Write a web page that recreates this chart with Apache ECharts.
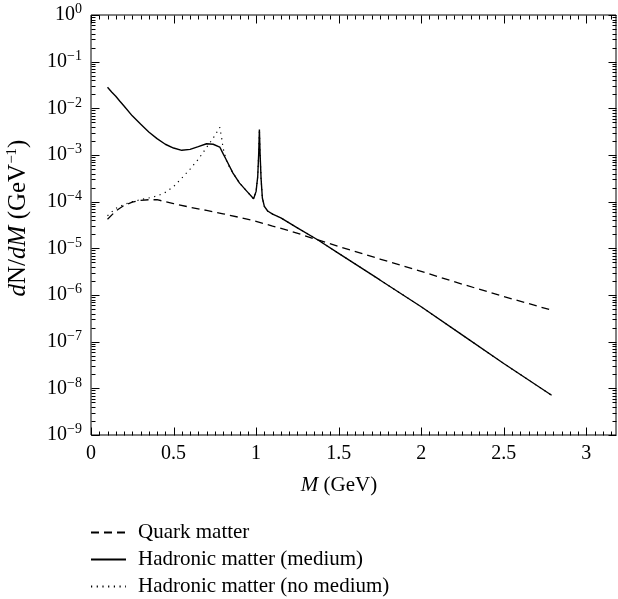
<!DOCTYPE html>
<html>
<head>
<meta charset="utf-8">
<script src="https://cdn.jsdelivr.net/npm/echarts@6/dist/echarts.min.js"></script>
<style>
  html, body { margin: 0; padding: 0; background: #fff; }
  #chart { width: 618px; height: 599px; }
</style>
</head>
<body>
<div id="chart"></div>
<script>
// Dilepton invariant-mass spectra, dN/dM versus M (GeV)
const FONT = '"Liberation Serif", "DejaVu Serif", serif';

// Quark matter
const quarkM = [0.10, 0.15, 0.20, 0.25, 0.30, 0.35, 0.40, 0.50, 0.60, 0.70, 0.80, 0.90, 1.00, 1.10, 1.20, 1.375, 1.50, 1.75, 2.00, 2.25, 2.50, 2.775];
const quarkY = [4.2e-5, 6.3e-5, 8.3e-5, 9.8e-5, 1.07e-4, 1.10e-4, 1.10e-4, 9.1e-5, 7.6e-5, 6.5e-5, 5.5e-5, 4.6e-5, 3.8e-5, 3.0e-5, 2.4e-5, 1.51e-5, 1.10e-5, 5.9e-6, 3.2e-6, 1.70e-6, 9.3e-7, 4.9e-7];

// Hadronic matter with in-medium modification
const hadMedM = [0.10, 0.125, 0.15, 0.175, 0.20, 0.25, 0.30, 0.35, 0.40, 0.45, 0.50, 0.55, 0.60, 0.65, 0.70, 0.74, 0.78, 0.80, 0.82, 0.86, 0.90, 0.95, 0.985, 1.000, 1.010, 1.016, 1.020, 1.024, 1.030, 1.038, 1.050, 1.070, 1.10, 1.15, 1.25, 1.375, 1.50, 1.75, 2.00, 2.25, 2.50, 2.79];
const hadMedY = [2.82e-2, 2.24e-2, 1.82e-2, 1.42e-2, 1.12e-2, 6.9e-3, 4.6e-3, 3.1e-3, 2.24e-3, 1.70e-3, 1.41e-3, 1.26e-3, 1.32e-3, 1.51e-3, 1.74e-3, 1.70e-3, 1.48e-3, 1.07e-3, 7.8e-4, 4.1e-4, 2.5e-4, 1.58e-4, 1.15e-4, 1.66e-4, 3.5e-4, 1.12e-3, 3.5e-3, 1.12e-3, 3.2e-4, 1.2e-4, 7.9e-5, 6.3e-5, 5.4e-5, 4.5e-5, 2.75e-5, 1.51e-5, 7.8e-6, 2.1e-6, 5.6e-7, 1.38e-7, 3.4e-8, 7.1e-9];

// Hadronic matter without medium effects (coincides with the medium curve above 0.86 GeV)
const hadVacM = [0.10, 0.15, 0.20, 0.25, 0.30, 0.35, 0.40, 0.45, 0.50, 0.55, 0.60, 0.65, 0.70, 0.74, 0.765, 0.78, 0.79, 0.80, 0.82, 0.84];
const hadVacY = [5.0e-5, 7.2e-5, 8.7e-5, 1.0e-4, 1.10e-4, 1.20e-4, 1.32e-4, 1.58e-4, 2.1e-4, 3.2e-4, 5.0e-4, 8.1e-4, 1.45e-3, 2.3e-3, 3.2e-3, 3.9e-3, 2.5e-3, 1.41e-3, 7.6e-4, 5.4e-4];

// Axis ticks
const xMajor = [0, 0.5, 1, 1.5, 2, 2.5, 3];
const xMinorStep = 0.05;
const yExponents = [-9, -8, -7, -6, -5, -4, -3, -2, -1, 0];

const X_MIN = 0, X_MAX = 3.18, Y_MIN = 1e-9, Y_MAX = 1;
const MINUS = '\u2212';
const LABEL_SIZE = 20;
const MAJOR_LEN = 8, MINOR_LEN = 4;

const pairs = (xs, ys) => xs.map((x, i) => [x, ys[i]]);
const vacTail = pairs(hadMedM, hadMedY).filter(p => p[0] >= 0.86);

const xMinor = [];
for (let i = 1; i * xMinorStep <= 3.17; i++) {
  const v = +(i * xMinorStep).toFixed(2);
  if (Math.abs(v * 2 - Math.round(v * 2)) > 1e-9) xMinor.push(v);
}
const yMajor = yExponents.map(e => Math.pow(10, e));
const yMinor = [];
yExponents.slice(0, -1).forEach(e => {
  for (let k = 2; k <= 9; k++) yMinor.push(k * Math.pow(10, e));
});

// Inward frame ticks on all four sides: [M, dN/dM, side, length]
// side: 0 bottom, 1 top, 2 left, 3 right
const frameTicks = [];
xMajor.forEach(v => { frameTicks.push([v, Y_MIN, 0, MAJOR_LEN], [v, Y_MAX, 1, MAJOR_LEN]); });
xMinor.forEach(v => { frameTicks.push([v, Y_MIN, 0, MINOR_LEN], [v, Y_MAX, 1, MINOR_LEN]); });
yMajor.forEach(v => { frameTicks.push([X_MIN, v, 2, MAJOR_LEN], [X_MAX, v, 3, MAJOR_LEN]); });
yMinor.forEach(v => { frameTicks.push([X_MIN, v, 2, MINOR_LEN], [X_MAX, v, 3, MINOR_LEN]); });

function renderTick(params, api) {
  const p = api.coord([api.value(0), api.value(1)]);
  const side = api.value(2), len = api.value(3);
  let x1, y1, x2, y2;
  if (side < 2) {
    const x = Math.round(p[0]) + 0.5;
    const y = Math.round(p[1]) + 0.5;
    x1 = x2 = x; y1 = y; y2 = side === 0 ? y - len : y + len;
  } else {
    const x = Math.round(p[0]) + 0.5;
    const y = Math.round(p[1]) + 0.5;
    y1 = y2 = y; x1 = x; x2 = side === 2 ? x + len : x - len;
  }
  return {
    type: 'line', silent: true,
    shape: { x1, y1, x2, y2 },
    style: { stroke: '#000', lineWidth: 1 }
  };
}

const chart = echarts.init(document.getElementById('chart'), null, { renderer: 'canvas' });
chart.setOption({
  backgroundColor: '#fff',
  animation: false,
  textStyle: { fontFamily: FONT },
  grid: { left: 91, right: 2, top: 15, bottom: 164, containLabel: false, show: true, borderColor: '#000', borderWidth: 1, backgroundColor: 'transparent' },
  xAxis: {
    type: 'value', position: 'bottom', min: X_MIN, max: X_MAX, interval: 0.5,
    axisLine: { show: false },
    axisTick: { show: false },
    axisLabel: {
      show: true, customValues: xMajor, margin: 9, color: '#000',
      fontFamily: FONT, fontSize: LABEL_SIZE, formatter: v => String(v)
    },
    splitLine: { show: false }
  },
  yAxis: {
    type: 'log', position: 'left', min: Y_MIN, max: Y_MAX, logBase: 10,
    axisLine: { show: false },
    axisTick: { show: false },
    axisLabel: {
      show: true, customValues: yMajor, margin: 9, color: '#000',
      fontFamily: FONT, fontSize: LABEL_SIZE,
      formatter: v => {
        const e = Math.round(Math.log10(v));
        return '{b|10}{s|' + (e < 0 ? MINUS + (-e) : String(e)) + '}';
      },
      rich: {
        b: { fontFamily: FONT, fontSize: LABEL_SIZE, color: '#000' },
        s: { fontFamily: FONT, fontSize: 14, color: '#000', padding: [0, 0, 11, 0] }
      }
    },
    splitLine: { show: false }
  },
  legend: {
    orient: 'vertical', left: 85, top: 517, height: 120,
    itemWidth: 35, itemHeight: 14, itemGap: 6,
    itemStyle: { color: 'rgba(0,0,0,0)', borderWidth: 0 },
    textStyle: { fontFamily: FONT, fontSize: 21, color: '#000', padding: [0, 0, 0, 7] },
    data: ['Quark matter', 'Hadronic matter (medium)', 'Hadronic matter (no medium)']
  },
  series: [
    {
      name: 'frame ticks', type: 'custom', data: frameTicks,
      renderItem: renderTick, clip: false, silent: true, z: 3,
      encode: { x: 0, y: 1 }
    },
    {
      name: 'Quark matter', type: 'line', data: pairs(quarkM, quarkY),
      symbol: 'none', smooth: false,
      lineStyle: { color: '#000', width: 1.3, type: [8, 5] }, itemStyle: { color: '#000' }
    },
    {
      name: 'Hadronic matter (medium)', type: 'line', data: pairs(hadMedM, hadMedY),
      symbol: 'none', smooth: false,
      lineStyle: { color: '#000', width: 1.4, type: 'solid' }, itemStyle: { color: '#000' }
    },
    {
      name: 'Hadronic matter (no medium)', type: 'line', data: pairs(hadVacM, hadVacY).concat(vacTail),
      symbol: 'none', smooth: false,
      lineStyle: { color: '#000', width: 1.2, type: [1.2, 4.5] }, itemStyle: { color: '#000' }
    }
  ],
  graphic: [
    {
      type: 'text', x: 339, y: 485,
      style: {
        text: '{i|M} (GeV)', fill: '#000', align: 'center', verticalAlign: 'middle',
        fontFamily: FONT, fontSize: 21,
        rich: {
          i: { fontFamily: FONT, fontSize: 21, fontStyle: 'italic', fill: '#000' }
        }
      }
    },
    {
      type: 'text', x: 18, y: 218, rotation: Math.PI / 2,
      style: {
        text: '{i|d}N/{i|dM} (GeV{s|' + MINUS + '1})', fill: '#000',
        align: 'center', verticalAlign: 'middle',
        fontFamily: FONT, fontSize: 25,
        rich: {
          i: { fontFamily: FONT, fontSize: 25, fontStyle: 'italic', fill: '#000' },
          s: { fontFamily: FONT, fontSize: 15, fill: '#000', padding: [0, 0, 12, 0] }
        }
      }
    }
  ]
});
</script>
</body>
</html>
